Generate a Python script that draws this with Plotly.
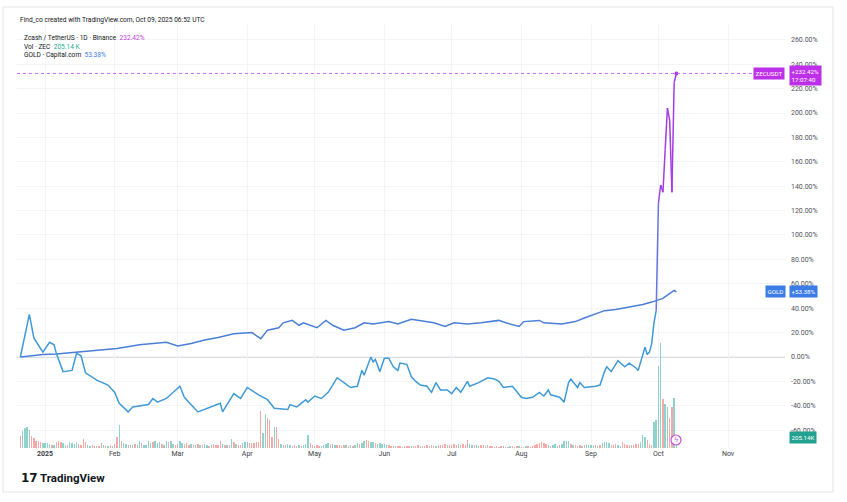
import plotly.graph_objects as go
import pandas as pd

# ---------------- data ----------------
zec_dates = ["2024-12-21", "2024-12-25", "2024-12-27", "2024-12-31", "2025-01-03", "2025-01-05", "2025-01-06",
             "2025-01-09", "2025-01-13", "2025-01-15", "2025-01-17", "2025-01-19", "2025-01-24", "2025-01-29",
             "2025-02-01", "2025-02-03", "2025-02-07", "2025-02-09", "2025-02-16", "2025-02-18", "2025-02-20",
             "2025-02-24", "2025-03-02", "2025-03-04", "2025-03-10", "2025-03-14", "2025-03-20", "2025-03-21",
             "2025-03-26", "2025-03-29", "2025-04-01", "2025-04-06", "2025-04-10", "2025-04-13", "2025-04-19",
             "2025-04-20", "2025-04-23", "2025-04-25", "2025-04-27", "2025-04-28", "2025-05-01", "2025-05-04",
             "2025-05-07", "2025-05-09", "2025-05-11", "2025-05-14", "2025-05-17", "2025-05-20", "2025-05-22",
             "2025-05-23", "2025-05-26", "2025-05-27", "2025-05-28", "2025-05-30", "2025-06-01", "2025-06-03",
             "2025-06-05", "2025-06-07", "2025-06-08", "2025-06-11", "2025-06-13", "2025-06-15", "2025-06-17",
             "2025-06-20", "2025-06-22", "2025-06-24", "2025-06-26", "2025-06-29", "2025-07-01", "2025-07-03",
             "2025-07-05", "2025-07-08", "2025-07-09", "2025-07-13", "2025-07-17", "2025-07-20", "2025-07-22",
             "2025-07-24", "2025-07-28", "2025-08-01", "2025-08-03", "2025-08-06", "2025-08-09", "2025-08-11",
             "2025-08-13", "2025-08-14", "2025-08-18", "2025-08-20", "2025-08-22", "2025-08-23", "2025-08-26",
             "2025-08-27", "2025-08-29", "2025-09-03", "2025-09-05", "2025-09-07", "2025-09-08", "2025-09-10",
             "2025-09-13", "2025-09-16", "2025-09-18", "2025-09-21", "2025-09-22", "2025-09-25", "2025-09-26",
             "2025-09-27", "2025-09-28", "2025-09-29", "2025-09-30", "2025-10-01", "2025-10-02", "2025-10-03",
             "2025-10-04", "2025-10-05", "2025-10-06", "2025-10-07", "2025-10-08", "2025-10-09"]
zec_pct = [0, 35, 15.6, 4, 12, 10, 3,
           -12, -11, 3, 1, -13, -19, -23,
           -29, -38, -45, -41, -39, -34, -37,
           -34, -24, -33, -45, -42, -38, -45,
           -30, -34, -25, -31, -35, -42, -43,
           -39, -41, -38, -35, -37, -32, -34,
           -29, -23, -17, -21, -25, -24, -11,
           -15, 0, -4, -2, -12, -1, -1,
           -8, -11, -5, -6, -16, -20, -23,
           -24, -29, -21, -27, -27, -30, -25,
           -29, -20, -24, -21, -17, -18, -20,
           -25, -24, -33, -34, -33, -29, -32,
           -27, -31, -33, -37, -21, -18, -25,
           -21, -25, -24, -23, -12, -8, -12,
           -3, -8, -5, -9, -11, 8, 2,
           4, 11, 28, 38, 126, 141, 135,
           170, 204, 194, 135, 225, 232.42]

gold_dates = ["2024-12-21", "2024-12-31", "2025-01-06", "2025-01-15", "2025-01-22", "2025-02-02", "2025-02-12",
              "2025-02-18", "2025-02-24", "2025-03-01", "2025-03-07", "2025-03-13", "2025-03-19", "2025-03-26",
              "2025-04-03", "2025-04-07", "2025-04-10", "2025-04-15", "2025-04-17", "2025-04-21", "2025-04-24",
              "2025-04-26", "2025-05-02", "2025-05-06", "2025-05-09", "2025-05-14", "2025-05-19", "2025-05-23",
              "2025-05-27", "2025-06-03", "2025-06-07", "2025-06-13", "2025-06-19", "2025-06-23", "2025-06-28",
              "2025-07-02", "2025-07-08", "2025-07-14", "2025-07-22", "2025-07-25", "2025-07-31", "2025-08-02",
              "2025-08-09", "2025-08-11", "2025-08-19", "2025-08-25", "2025-08-29", "2025-09-03", "2025-09-07",
              "2025-09-12", "2025-09-18", "2025-09-24", "2025-09-28", "2025-10-03", "2025-10-08", "2025-10-09"]
gold_pct = [0, 2, 2.5, 4, 5, 7, 10,
            11, 12, 9, 11, 14, 16, 19,
            20, 15, 22, 24, 28, 30, 26,
            28, 24, 30, 26, 22, 24, 28,
            27, 29, 27, 31, 29, 28, 25,
            28, 27, 28, 30, 28, 25, 29,
            30, 28, 27, 29, 32, 35, 38,
            39, 41, 43, 45, 48, 54.5, 53.38]

# daily ZEC volume (thousands) from 2024-12-21 to 2025-10-09, with candle direction
vol_start = "2024-12-21"
vol_k = [240, 340, 400, 420, 360, 240, 200, 140, 140, 120, 100,
         110, 100, 80, 60, 60, 130, 140, 120, 100, 60, 70, 120, 110, 90, 120, 80, 60, 180, 120, 70, 50, 60, 40, 40, 50, 100, 60, 50, 40, 60, 50,
         80, 220, 460, 140, 100, 80, 60, 70, 60, 80, 60, 140, 100, 60, 70, 140, 100, 120, 140, 110, 120, 80, 70, 140, 120, 140, 80, 60,
         80, 140, 100, 80, 100, 60, 80, 60, 70, 80, 60, 60, 80, 60, 50, 60, 80, 60, 60, 150, 80, 60, 60, 70, 180, 120, 80, 60, 60, 100, 120,
         120, 100, 100, 110, 120, 130, 760, 300, 680, 600, 560, 220, 420, 420, 180, 80, 70, 60, 80, 60, 50, 60, 50, 60, 50, 60, 80, 260, 100, 60,
         50, 60, 50, 40, 60, 80, 100, 60, 80, 70, 60, 60, 50, 60, 70, 50, 60, 50, 60, 100, 80, 100, 140, 160, 140, 120, 120, 100, 90, 100, 80,
         80, 60, 60, 40, 40, 50, 40, 40, 30, 40, 50, 40, 40, 50, 40, 60, 40, 50, 40, 60, 50, 60, 40, 50, 70, 60, 60, 80, 60, 70,
         60, 80, 60, 80, 60, 80, 60, 160, 80, 60, 60, 60, 50, 60, 60, 50, 60, 40, 40, 30, 40, 30, 40, 50, 30, 30, 40, 40, 30, 40, 40,
         30, 30, 40, 40, 30, 40, 60, 80, 100, 120, 100, 80, 60, 40, 60, 80, 50, 60, 80, 150, 150, 150, 80, 70, 60, 50, 60, 40, 60, 80, 70,
         60, 60, 60, 40, 60, 100, 120, 120, 100, 60, 60, 80, 60, 50, 120, 80, 60, 70, 60, 60, 80, 80, 120, 260, 220, 160, 80, 60, 520, 560,
         1660, 2130, 1000, 900, 840, 600, 840, 1020, 205.14]
vol_dir = ("rggggrrrrrg"
           "gggrgrrrggrggggrrrrggrrgrrgrgrg"
           "rrgrggrggrggrggggrgggrggrggr"
           "rggrrrgrgrgrggrgrrrrgrgrgrgrrgg"
           "grrrrrrggrrrgrrggrggrrrgrgggrr"
           "grrggggrggrrrrgrgrggrggrrggrggg"
           "ggrrrgrrgrrrgrrrgrrrgrrgrrrrgr"
           "rrrgrrrrggrggrrrgrrgrrrgrrgrrrg"
           "rrgrrrrrrrrrgrgggrggggrgrrrgrgg"
           "ggrgrggggrrrggrrrrgrrrgggrrrgg"
           "ggrggrrgg")

month_ticks = ["2025-01-01", "2025-02-01", "2025-03-01", "2025-04-01", "2025-05-01", "2025-06-01",
               "2025-07-01", "2025-08-01", "2025-09-01", "2025-10-01", "2025-11-01"]
month_labels = ["<b>2025</b>", "Feb", "Mar", "Apr", "May", "Jun", "Jul", "Aug", "Sep", "Oct", "Nov"]
pct_ticks = [-60, -40, -20, 0, 20, 40, 60, 80, 100, 120, 140, 160, 180, 200, 220, 240, 260]

header_text = "Find_co created with TradingView.com, Oct 09, 2025 06:52 UTC"
zec_name = "Zcash / TetherUS · 1D · Binance"
vol_name = "Vol · ZEC"
gold_name = "GOLD · Capital.com"
zec_last_label = "232.42%"
vol_last_label = "205.14 K"
gold_last_label = "53.38%"
clock_label = "17:07:40"

# ---------------- style / layout ----------------
W, H = 847, 502
ML, MR, MT, MB = 17, 62, 24, 54
PW, PH = W - ML - MR, H - MT - MB
FONT = "Roboto, Inter, 'DejaVu Sans', sans-serif"

ZEC_LO = (63, 154, 216)
ZEC_HI = (166, 60, 226)
GOLD_C = "#4a7fd8"
PURPLE_BOX = "#bd2fe8"
GOLD_BOX = "#3b7ce6"
VOL_BOX = "#22a18f"
VOL_UP = "rgba(38,166,154,0.5)"
VOL_DN = "rgba(239,83,80,0.5)"


def px_x(p):
    return (p - ML) / PW


def px_y(p):
    return (H - MB - p) / PH


def mix(t):
    t = max(0.0, min(1.0, t))
    c = [round(a + (b - a) * t) for a, b in zip(ZEC_LO, ZEC_HI)]
    return "rgb(%d,%d,%d)" % tuple(c)


fig = go.Figure()

# volume bars
vol_dates = pd.date_range(vol_start, periods=len(vol_k), freq="D")
fig.add_trace(go.Bar(
    x=vol_dates, y=vol_k, yaxis="y",
    marker=dict(color=[VOL_UP if d == "g" else VOL_DN for d in vol_dir], line=dict(width=0)),
    width=0.62 * 86400000, hoverinfo="skip", showlegend=False,
))

# gold line
fig.add_trace(go.Scatter(x=gold_dates, y=gold_pct, yaxis="y2", mode="lines",
                         line=dict(color=GOLD_C, width=1.5), showlegend=False, hoverinfo="skip"))

# ZEC line, colored from blue to purple with rising value
LO_V, HI_V = 40.0, 150.0
cut = 0
for i in range(len(zec_pct) - 1):
    if max(zec_pct[i], zec_pct[i + 1]) <= LO_V:
        cut = i + 1
    else:
        break
fig.add_trace(go.Scatter(x=zec_dates[:cut + 1], y=zec_pct[:cut + 1], yaxis="y2", mode="lines",
                         line=dict(color=mix(0), width=1.5), showlegend=False, hoverinfo="skip"))
for i in range(cut, len(zec_pct) - 1):
    mean_v = (zec_pct[i] + zec_pct[i + 1]) / 2
    fig.add_trace(go.Scatter(x=zec_dates[i:i + 2], y=zec_pct[i:i + 2], yaxis="y2", mode="lines",
                             line=dict(color=mix((mean_v - LO_V) / (HI_V - LO_V)), width=1.5),
                             showlegend=False, hoverinfo="skip"))
fig.add_trace(go.Scatter(x=[zec_dates[-1]], y=[zec_pct[-1]], yaxis="y2", mode="markers",
                         marker=dict(color=mix(1), size=4), showlegend=False, hoverinfo="skip"))

shapes = [
    # card border
    dict(type="rect", xref="paper", yref="paper", x0=px_x(3), x1=px_x(833), y0=px_y(492), y1=px_y(7),
         line=dict(color="#e3e5ea", width=1), layer="below"),
    # zero line
    dict(type="line", xref="paper", yref="y2", x0=0, x1=1, y0=0, y1=0,
         line=dict(color="#b8bbc3", width=1), layer="below"),
    # last price dotted line
    dict(type="line", xref="paper", yref="y2", x0=0, x1=px_x(752), y0=zec_pct[-1], y1=zec_pct[-1],
         line=dict(color="#c86cf0", width=1, dash="dot")),
    # live icon
    dict(type="circle", xref="paper", yref="paper", x0=px_x(671), x1=px_x(681), y0=px_y(445), y1=px_y(435),
         line=dict(color="#c94fd0", width=1.2), fillcolor="white"),
]

LEG_FS = 6.6
annotations = [
    dict(text=header_text, x=px_x(18), y=px_y(20), xanchor="left", yanchor="middle",
         font=dict(size=LEG_FS, color="#131722")),
    dict(text=zec_name + "  <span style='color:#c23ee6'>" + zec_last_label + "</span>", x=px_x(22), y=px_y(38),
         xanchor="left", yanchor="middle", font=dict(size=LEG_FS, color="#131722")),
    dict(text=vol_name + "  <span style='color:#22ab94'>" + vol_last_label + "</span>", x=px_x(22), y=px_y(46.5),
         xanchor="left", yanchor="middle", font=dict(size=LEG_FS, color="#131722")),
    dict(text=gold_name + "  <span style='color:#3b7ce6'>" + gold_last_label + "</span>", x=px_x(22), y=px_y(55),
         xanchor="left", yanchor="middle", font=dict(size=LEG_FS, color="#131722")),
    # right-side price labels
    dict(text="ZECUSDT", x=px_x(768.5), y=zec_pct[-1], yref="y2", xanchor="center", yanchor="middle",
         font=dict(size=6.2, color="white"), bgcolor=PURPLE_BOX, borderpad=1.5),
    dict(text="+" + zec_last_label + "<br>" + clock_label, x=px_x(805), y=zec_pct[-1], yref="y2", yshift=-2,
         xanchor="center", yanchor="middle", font=dict(size=6.2, color="white"), bgcolor=PURPLE_BOX,
         borderpad=1.5, align="left"),
    dict(text="GOLD", x=px_x(775), y=gold_pct[-1], yref="y2", xanchor="center", yanchor="middle",
         font=dict(size=6.2, color="white"), bgcolor=GOLD_BOX, borderpad=1.5),
    dict(text="+" + gold_last_label, x=px_x(803.5), y=gold_pct[-1], yref="y2", xanchor="center", yanchor="middle",
         font=dict(size=6.2, color="white"), bgcolor=GOLD_BOX, borderpad=1.5),
    dict(text=vol_last_label.replace(" ", ""), x=px_x(803), y=vol_k[-1], yref="y", xanchor="center",
         yanchor="middle", font=dict(size=6.2, color="white"), bgcolor=VOL_BOX, borderpad=1.5),
    dict(text="ϟ", x=px_x(676), y=px_y(440), xanchor="center", yanchor="middle",
         font=dict(size=7, color="#c94fd0")),
    # logo
    dict(text="<b>17</b>", x=px_x(19), y=px_y(478), xanchor="left", yanchor="middle",
         font=dict(size=12, color="#131722", family="'DejaVu Sans', sans-serif")),
    dict(text="<b>TradingView</b>", x=px_x(38), y=px_y(478), xanchor="left", yanchor="middle",
         font=dict(size=11.5, color="#131722")),
]
for a in annotations:
    a.setdefault("xref", "paper")
    a.setdefault("yref", "paper")
    a["showarrow"] = False

fig.update_layout(
    width=W, height=H,
    margin=dict(l=ML, r=MR, t=MT, b=MB, pad=0),
    paper_bgcolor="white", plot_bgcolor="white",
    font=dict(family=FONT, size=7, color="#131722"),
    showlegend=False,
    bargap=0,
    xaxis=dict(type="date", range=["2024-12-19 12:00", "2025-11-26 08:00"],
               tickvals=month_ticks, ticktext=month_labels, ticks="",
               showgrid=True, gridcolor="#f3f4f7", gridwidth=1, zeroline=False, showline=False,
               tickfont=dict(size=7, color="#3a3d45"), fixedrange=True),
    yaxis=dict(range=[0, 8600], visible=False, showgrid=False, fixedrange=True),
    yaxis2=dict(overlaying="y", side="right", range=[-74.6, 272.95],
                tickvals=pct_ticks, ticktext=["%.2f%%" % v for v in pct_ticks],
                ticks="", ticklabelstandoff=5, showgrid=True, gridcolor="#f3f4f7", gridwidth=1,
                zeroline=False, showline=False, tickfont=dict(size=7, color="#50535e"), fixedrange=True),
    shapes=shapes,
    annotations=annotations,
)

fig.write_html("out.html")
